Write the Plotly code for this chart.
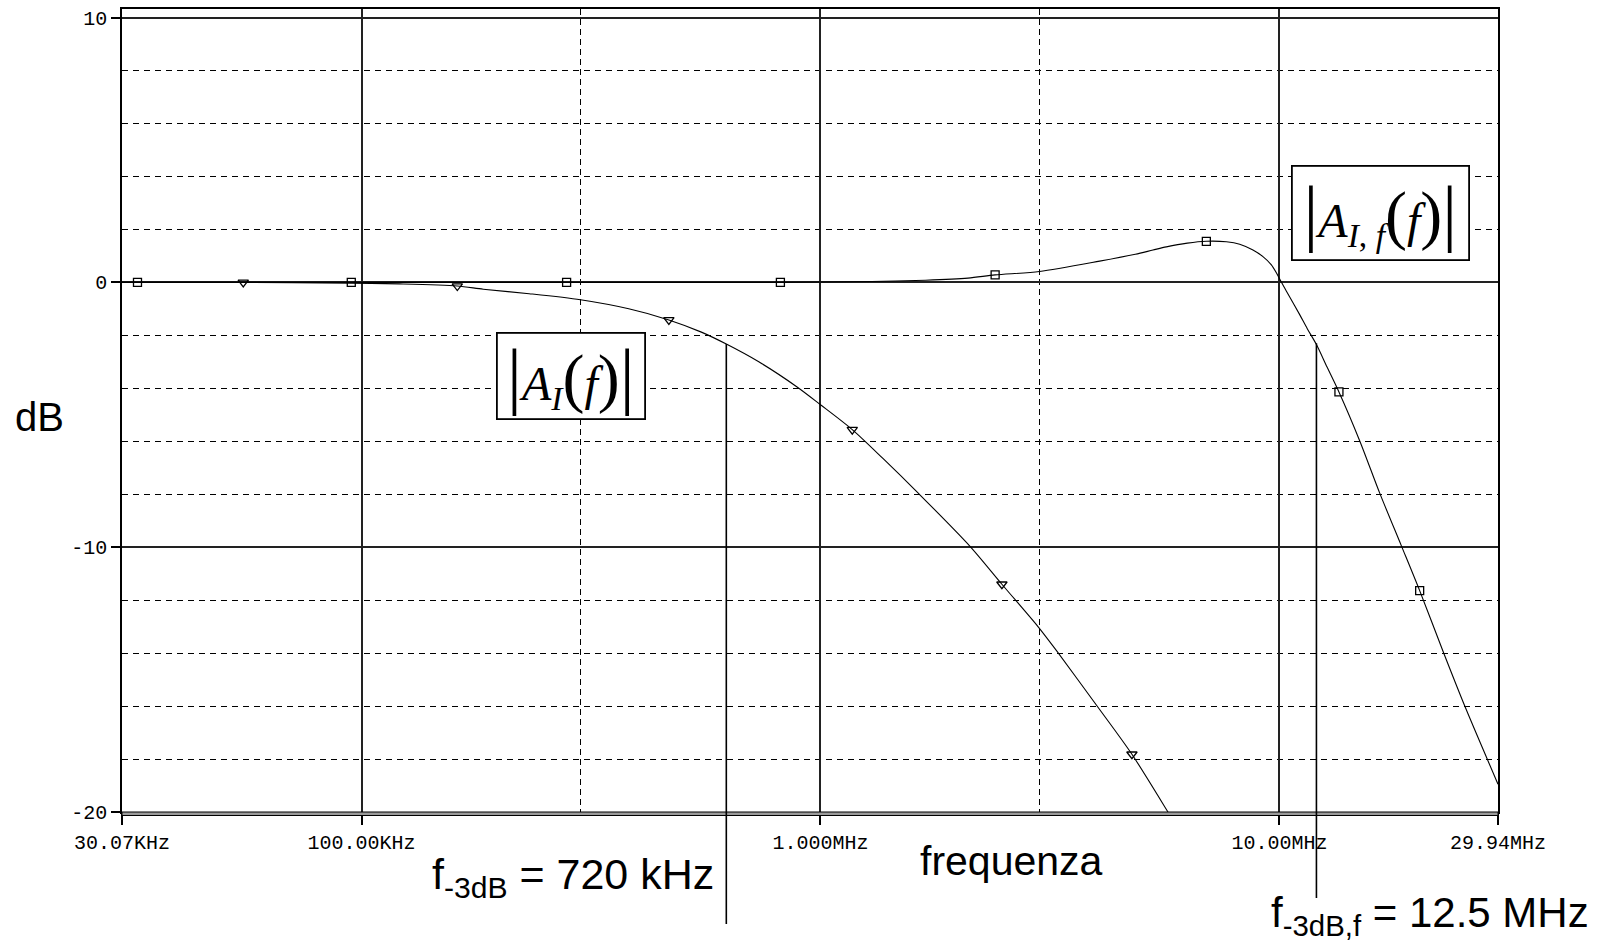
import math
import plotly.graph_objects as go

# ---------------- data ----------------
# |A_I(f)|  (open-loop current gain, triangle markers)
ai_freq = [30.07e3, 55.25e3, 95e3, 121e3, 161.7e3, 184.2e3, 231.9e3, 300e3, 382.1e3,
           467.4e3, 550.2e3, 623.5e3, 733.8e3, 889.3e3, 1.0e6, 1.173e6, 1.368e6,
           1.631e6, 2.113e6, 2.485e6, 2.978e6, 3.265e6, 3.991e6, 4.771e6, 5.716e6, 6.0e6]
ai_db = [0.0, 0.0, -0.03, -0.06, -0.14, -0.26, -0.43, -0.66, -1.0,
         -1.42, -1.88, -2.33, -3.0, -3.95, -4.62, -5.56, -6.65,
         -7.95, -9.95, -11.4, -13.0, -13.9, -15.96, -17.82, -20.0, -20.6]
ai_mark_freq = [55.25e3, 161.7e3, 467.4e3, 1.173e6, 2.485e6, 4.771e6]
ai_mark_db = [0.0, -0.14, -1.42, -5.56, -11.4, -17.82]

# |A_I,f(f)|  (closed-loop current gain, square markers)
aif_freq = [30.07e3, 95e3, 279.8e3, 446.8e3, 817.9e3, 1.294e6, 1.694e6, 2.096e6, 2.402e6,
            3.0e6, 4.058e6, 4.853e6, 5.302e6, 5.671e6, 6.3e6, 6.931e6, 7.664e6, 8.193e6,
            8.756e6, 9.207e6, 9.604e6, 9.847e6, 10.1e6, 10.53e6, 11.07e6, 11.5e6, 12.04e6,
            12.7e6, 13.48e6, 14.95e6, 16.54e6, 18.44e6, 20.21e6, 22.72e6, 25.33e6, 29.94e6]
aif_db = [0.0, 0.0, 0.0, 0.0, 0.0, 0.03, 0.08, 0.16, 0.28,
          0.41, 0.8, 1.06, 1.22, 1.34, 1.48, 1.55, 1.53, 1.44,
          1.22, 0.97, 0.66, 0.36, 0.0, -0.55, -1.22, -1.75, -2.35,
          -3.2, -4.14, -5.97, -7.96, -9.95, -11.64, -13.93, -15.99, -18.95]
aif_mark_freq = [32.5e3, 95e3, 279.8e3, 817.9e3, 2.402e6, 6.931e6, 13.48e6, 20.21e6]
aif_mark_db = [0.0, 0.0, 0.0, 0.0, 0.28, 1.55, -4.14, -11.64]

# axes ticks
x_tick_vals = [30.07e3, 100e3, 1e6, 10e6, 29.94e6]
x_tick_text = ["30.07KHz", "100.00KHz", "1.000MHz", "10.00MHz", "29.94MHz"]
x_minor_vals = [300e3, 3e6]
y_tick_vals = [-20, -10, 0, 10]
y_tick_text = ["-20", "-10", "0", "10"]
y_minor_vals = [-18, -16, -14, -12, -8, -6, -4, -2, 2, 4, 6, 8]

# -3 dB marker lines (frequency where drawn, dB where they touch the curve)
cutoff_freq = [623.5e3, 12.04e6]
cutoff_db = [-2.33, -2.3]
cutoff_bottom_px = [924, 898]

# ---------------- layout geometry ----------------
W, H = 1599, 943
ML, MR, MT, MB = 122, 101, 9, 131
PW, PH = W - ML - MR, H - MT - MB
Y0, Y1 = -20.0, 10.321
X0, X1 = math.log10(x_tick_vals[0]), math.log10(x_tick_vals[-1])


def px_x(x):
    return (x - ML) / PW


def px_y(y):
    return (MT + PH - y) / PH


def db_paper(db):
    return (db - Y0) / (Y1 - Y0)


fig = go.Figure()

line_style = dict(color="#000", width=1.1, shape="spline", smoothing=0.8)
fig.add_trace(go.Scatter(x=ai_freq, y=ai_db, mode="lines", line=line_style,
                         showlegend=False, hoverinfo="skip"))
fig.add_trace(go.Scatter(x=aif_freq, y=aif_db, mode="lines", line=line_style,
                         showlegend=False, hoverinfo="skip"))
fig.add_trace(go.Scatter(x=ai_mark_freq, y=ai_mark_db, mode="markers",
                         marker=dict(symbol="triangle-down-open", size=9, color="#000",
                                     line=dict(width=1.3, color="#000")),
                         showlegend=False))
fig.add_trace(go.Scatter(x=aif_mark_freq, y=aif_mark_db, mode="markers",
                         marker=dict(symbol="square-open", size=8, color="#000",
                                     line=dict(width=1.3, color="#000")),
                         showlegend=False))

mono = dict(family="Liberation Mono, Courier New, monospace", size=20, color="#000")

fig.update_layout(
    template="none",
    width=W, height=H,
    margin=dict(l=ML, r=MR, t=MT, b=MB, pad=0),
    paper_bgcolor="white", plot_bgcolor="white",
    showlegend=False,
    xaxis=dict(type="log", range=[X0, X1], tickmode="array",
               tickvals=x_tick_vals, ticktext=x_tick_text, tickfont=mono,
               ticks="outside", ticklen=11, tickwidth=1.5, tickcolor="#000",
               showline=True, linecolor="#000", linewidth=1.5, mirror=True,
               showgrid=True, gridcolor="#222", gridwidth=1.5, zeroline=False,
               automargin=False,
               minor=dict(tickvals=x_minor_vals, showgrid=True, gridcolor="#000",
                          gridwidth=1.4, griddash="6px,4px", ticks="")),
    yaxis=dict(range=[Y0, Y1], tickmode="array", tickvals=y_tick_vals,
               ticktext=y_tick_text, tickfont=mono,
               ticks="outside", ticklen=9, tickwidth=1.5, tickcolor="#000",
               showline=True, linecolor="#000", linewidth=1.5, mirror=True,
               showgrid=True, gridcolor="#222", gridwidth=1.5, zeroline=False,
               automargin=False,
               minor=dict(tickvals=y_minor_vals, showgrid=True, gridcolor="#000",
                          gridwidth=1.4, griddash="6px,5px", ticks="")),
)

# doubled bottom border
fig.add_shape(type="rect", xref="paper", yref="paper", x0=0, x1=1,
              y0=-3.5 / PH, y1=0, fillcolor="#9a9a9a", line=dict(color="#000", width=1))

# -3 dB vertical lines
for f, d, bpx in zip(cutoff_freq, cutoff_db, cutoff_bottom_px):
    fig.add_shape(type="line", xref="x", yref="paper", x0=f, x1=f,
                  y0=db_paper(d), y1=px_y(bpx), line=dict(color="#000", width=1.6))

sans = "Liberation Sans, Arial, sans-serif"
serif = "Liberation Serif, Times New Roman, serif"

fig.add_annotation(xref="paper", yref="paper", x=px_x(39), y=px_y(393),
                   xanchor="center", yanchor="top", showarrow=False, text="dB",
                   font=dict(family=sans, size=40, color="#000"))
fig.add_annotation(xref="paper", yref="paper", x=px_x(1011), y=px_y(836),
                   xanchor="center", yanchor="top", showarrow=False, text="frequenza",
                   font=dict(family=sans, size=41, color="#000"))
fig.add_annotation(xref="paper", yref="paper", x=px_x(716), y=px_y(848),
                   xanchor="right", yanchor="top", showarrow=False,
                   text="f<sub>-3dB</sub> = 720 kHz",
                   font=dict(family=sans, size=43, color="#000"))
fig.add_annotation(xref="paper", yref="paper", x=px_x(1591), y=px_y(887),
                   xanchor="right", yanchor="top", showarrow=False,
                   text="f<sub>-3dB,f</sub> = 12.5 MHz",
                   font=dict(family=sans, size=42, color="#000"))

bar = '<span style="font-size:74px">|</span>'
lp = '<span style="font-size:66px">(</span>'
rp = '<span style="font-size:66px">)</span>'
fig.add_annotation(xref="paper", yref="paper", x=px_x(570.8), y=px_y(376.3),
                   xanchor="center", yanchor="middle", showarrow=False,
                   text=bar + "<i>A</i><sub><i>I</i></sub>" + lp + "<i>f</i>" + rp + bar,
                   font=dict(family=serif, size=48, color="#000"),
                   width=146, height=84, borderpad=0, borderwidth=1.8,
                   bordercolor="#000", bgcolor="white", valign="middle", align="center")
fig.add_annotation(xref="paper", yref="paper", x=px_x(1380.3), y=px_y(213.3),
                   xanchor="center", yanchor="middle", showarrow=False,
                   text=bar + "<i>A</i><sub><i>I</i>, <i>f</i></sub>" + lp + "<i>f</i>" + rp + bar,
                   font=dict(family=serif, size=48, color="#000"),
                   width=175, height=92, borderpad=0, borderwidth=1.8,
                   bordercolor="#000", bgcolor="white", valign="middle", align="center")

fig.write_html("out.html")
